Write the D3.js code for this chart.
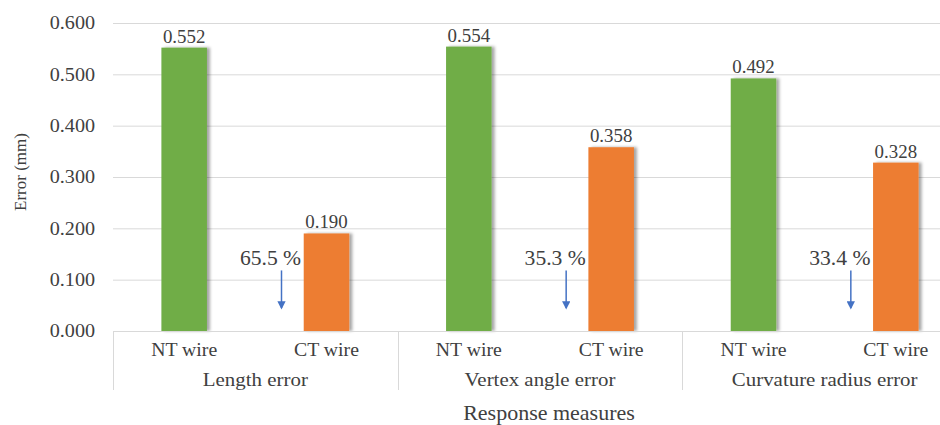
<!DOCTYPE html>
<html><head><meta charset="utf-8">
<script src="https://cdn.jsdelivr.net/npm/d3@7"></script>
<style>
html,body{margin:0;padding:0;background:#fff;overflow:hidden}
svg text{font-family:"Liberation Serif",Tinos,"DejaVu Serif",serif;fill:#404040}
</style></head>
<body><svg id="c" width="940" height="425"></svg>
<script>
const groups = ["Length error", "Vertex angle error", "Curvature radius error"];
const wires = ["NT wire", "CT wire"];
const ntValues = [0.552, 0.554, 0.492];
const ctValues = [0.190, 0.358, 0.328];
const reductions = ["65.5 %", "35.3 %", "33.4 %"];
const yTicks = [0, 0.1, 0.2, 0.3, 0.4, 0.5, 0.6];
const yTitle = "Error (mm)";
const xTitle = "Response measures";
const colors = {"NT wire": "#70AD47", "CT wire": "#ED7D31"};

(function () {
const FONT = "'Liberation Serif', Tinos, 'DejaVu Serif', serif";
const svg = d3.select("#c");
const mL = 113, mR = 967, mT = 23, mB = 331;
const SX = 1.1;

const rows = [];
groups.forEach((g, i) => {
  rows.push({group: g, wire: "NT wire", value: ntValues[i], key: g + "|NT wire"});
  rows.push({group: g, wire: "CT wire", value: ctValues[i], key: g + "|CT wire"});
});

const x = d3.scaleBand().domain(rows.map(d => d.key)).range([mL, mR]).paddingInner(0.68).paddingOuter(0.34);
const xg = d3.scaleBand().domain(groups).range([mL, mR]);
const y = d3.scaleLinear().domain([0, 0.6]).range([mB, mT]);

const defs = svg.append("defs");
const f = defs.append("filter").attr("id", "sh").attr("x", "-20%").attr("y", "-5%").attr("width", "150%").attr("height", "110%");
f.append("feDropShadow").attr("dx", 3).attr("dy", 0).attr("stdDeviation", 1.6).attr("flood-color", "#000").attr("flood-opacity", 0.35);
defs.append("marker").attr("id", "ah").attr("viewBox", "0 0 10 10").attr("refX", 8).attr("refY", 5)
  .attr("markerWidth", 5.5).attr("markerHeight", 5.5).attr("orient", "auto")
  .append("path").attr("d", "M0,0 L10,5 L0,10 z").attr("fill", "#4472C4");

const ya = d3.axisLeft(y).tickValues(yTicks).tickFormat(d3.format(".3f")).tickSize(-(mR - mL)).tickPadding(16);
const yg = svg.append("g").attr("transform", `translate(${mL},0)`).call(ya);
yg.attr("font-family", FONT);
yg.select(".domain").remove();
yg.selectAll(".tick line").attr("stroke", "#d9d9d9").attr("stroke-width", 1);
yg.selectAll(".tick text").attr("font-size", 18).attr("fill", "#404040").attr("font-family", FONT)
  .attr("transform", "scale(1.12,1)");

svg.append("g").selectAll("rect").data(rows).join("rect")
  .attr("x", d => x(d.key)).attr("width", x.bandwidth())
  .attr("y", d => y(d.value)).attr("height", d => y(0) - y(d.value))
  .attr("fill", d => colors[d.wire]).attr("filter", "url(#sh)");

svg.append("g").selectAll("text").data(rows).join("text")
  .attr("transform", d => `translate(${x(d.key) + x.bandwidth() / 2},${y(d.value) - 5}) scale(1.05,1)`)
  .attr("text-anchor", "middle").attr("font-size", 18).attr("font-family", FONT)
  .text(d => d3.format(".3f")(d.value));

const xa = svg.append("g");
xa.append("line").attr("x1", mL).attr("x2", mR).attr("y1", mB + 0.5).attr("y2", mB + 0.5).attr("stroke", "#d9d9d9");
xa.selectAll("line.sep").data(groups).join("line").attr("class", "sep")
  .attr("x1", d => Math.round(xg(d)) + 0.5).attr("x2", d => Math.round(xg(d)) + 0.5)
  .attr("y1", mB).attr("y2", 390).attr("stroke", "#d9d9d9");
xa.selectAll("text.w").data(rows).join("text").attr("class", "w")
  .attr("transform", d => `translate(${x(d.key) + x.bandwidth() / 2},356) scale(1.04,1)`).attr("font-family", FONT)
  .attr("text-anchor", "middle").attr("font-size", 19).text(d => d.wire);
xa.selectAll("text.g").data(groups).join("text").attr("class", "g")
  .attr("transform", d => `translate(${xg(d) + xg.bandwidth() / 2},386) scale(${SX},1)`).attr("font-family", FONT)
  .attr("text-anchor", "middle").attr("font-size", 19).text(d => d);

svg.append("text").attr("transform", `translate(${(mL + mR) / 2 + 9},420) scale(${SX},1)`)
  .attr("text-anchor", "middle").attr("font-family", FONT)
  .attr("font-size", 20).text(xTitle);
svg.append("text").attr("transform", `translate(26,172) rotate(-90)`).attr("text-anchor", "middle")
  .attr("font-family", FONT).attr("font-size", 17).text(yTitle);

const ann = svg.append("g");
groups.forEach((g, i) => {
  const cx = x(g + "|CT wire") + x.bandwidth() / 2 - 45;
  ann.append("line").attr("x1", cx).attr("x2", cx).attr("y1", y(0.118)).attr("y2", y(0.045))
    .attr("stroke", "#4472C4").attr("stroke-width", 1.5).attr("marker-end", "url(#ah)");
  ann.append("text").attr("transform", `translate(${cx - 11},${y(0.128)}) scale(1.08,1)`)
    .attr("text-anchor", "middle").attr("font-family", FONT)
    .attr("font-size", 20).attr("fill", "#404040").text(reductions[i]);
});
})();
</script></body></html>
